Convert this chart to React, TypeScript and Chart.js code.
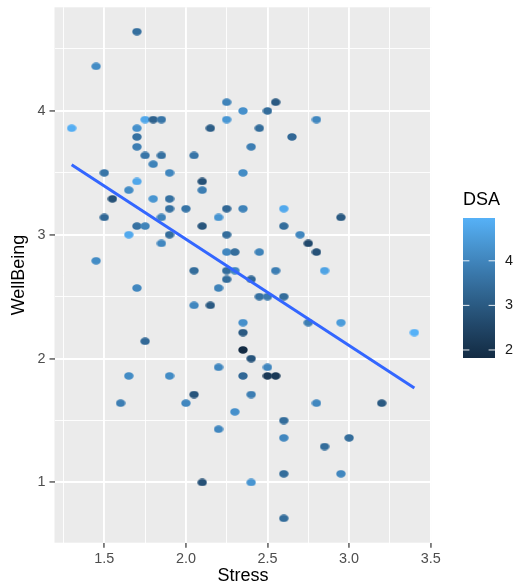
import React, { useEffect, useRef } from "react";
import { Chart, registerables } from "chart.js";

Chart.register(...registerables);

// ---- data ----
const STRESS = [
  1.70, 1.45, 2.25, 1.30, 1.75, 1.80, 1.85, 1.70, 1.70, 1.70,
  1.75, 1.85, 1.80, 2.05, 2.15, 2.25, 1.50, 1.90, 1.70, 2.10,
  2.10, 1.65, 1.55, 1.80, 1.90, 2.55, 2.35, 2.50, 2.80, 2.45,
  2.65, 2.40, 2.35, 1.90, 2.00, 1.85, 1.50, 2.20, 2.25, 1.70,
  1.75, 2.10, 1.65, 1.90, 2.25, 1.85, 1.45, 2.25, 2.30, 2.05,
  2.25, 2.30, 2.25, 1.70, 2.20, 2.05, 2.15, 1.75, 2.20, 1.65,
  1.90, 2.35, 2.60, 2.95, 2.60, 2.70, 2.75, 2.80, 2.45, 2.55,
  2.85, 2.40, 2.45, 2.50, 2.60, 2.35, 2.35, 2.75, 2.95, 3.40,
  2.35, 2.40, 2.50, 2.35, 2.50, 2.55, 2.05, 1.60, 2.00, 2.30,
  2.20, 2.10, 2.40, 2.80, 3.20, 2.60, 2.60, 3.00, 2.85, 2.60,
  2.95, 2.40, 2.60,
];
const WELLBEING = [
  4.64, 4.36, 4.07, 3.86, 3.93, 3.93, 3.93, 3.86, 3.79, 3.71,
  3.64, 3.64, 3.57, 3.64, 3.86, 3.93, 3.50, 3.50, 3.43, 3.43,
  3.36, 3.36, 3.29, 3.29, 3.29, 4.07, 4.00, 4.00, 3.93, 3.86,
  3.79, 3.71, 3.50, 3.21, 3.21, 3.14, 3.14, 3.14, 3.21, 3.07,
  3.07, 3.07, 3.00, 3.00, 3.00, 2.93, 2.79, 2.86, 2.86, 2.71,
  2.71, 2.71, 2.64, 2.57, 2.57, 2.43, 2.43, 2.14, 1.93, 1.86,
  1.86, 3.21, 3.21, 3.14, 3.07, 3.00, 2.93, 2.86, 2.86, 2.71,
  2.71, 2.64, 2.50, 2.50, 2.50, 2.29, 2.21, 2.29, 2.29, 2.21,
  2.07, 2.00, 1.93, 1.86, 1.86, 1.86, 1.71, 1.64, 1.64, 1.57,
  1.43, 1.00, 1.71, 1.64, 1.64, 1.50, 1.36, 1.36, 1.29, 1.07,
  1.07, 1.00, 0.71,
];
const DSA = [
  3.5, 4.15, 3.95, 4.9, 4.75, 3.2, 3.65, 4.25, 3.55, 3.85,
  3.65, 3.55, 3.95, 3.65, 3.1, 4.4, 3.65, 4.05, 4.75, 2.8,
  3.85, 4.15, 2.8, 4.35, 3.55, 3.0, 4.25, 3.45, 4.05, 3.45,
  3.35, 3.85, 4.15, 3.55, 3.65, 3.95, 3.35, 4.35, 3.35, 3.55,
  3.95, 2.9, 4.8, 3.45, 3.45, 4.05, 4.15, 4.05, 3.45, 3.45,
  3.45, 4.05, 3.45, 4.05, 3.95, 4.05, 3.0, 3.35, 4.05, 4.15,
  4.15, 3.95, 4.8, 3.0, 3.45, 4.05, 2.6, 2.8, 3.95, 3.85,
  4.65, 3.35, 3.55, 3.75, 3.45, 4.25, 3.0, 3.85, 4.5, 4.96,
  1.82, 2.9, 4.05, 3.35, 2.2, 2.2, 2.9, 3.85, 4.05, 4.25,
  4.05, 2.8, 3.85, 4.05, 3.0, 3.45, 4.05, 3.45, 3.45, 3.45,
  4.05, 4.35, 3.45,
];

// fitted lm line at the data's Stress extremes
const FIT_X = [1.3, 3.4];
const FIT_Y = [3.565, 1.763];

const X_MAJOR = [1.5, 2.0, 2.5, 3.0, 3.5];
const X_MINOR = [1.25, 1.75, 2.25, 2.75, 3.25];
const Y_MAJOR = [1, 2, 3, 4];
const Y_MINOR = [1.5, 2.5, 3.5, 4.5];
const DSA_TICKS = [2, 3, 4];

const X_TITLE = "Stress";
const Y_TITLE = "WellBeing";
const LEGEND_TITLE = "DSA";

const LOW_COLOR = "#132B43";
const HIGH_COLOR = "#56B1F7";
const FONT = '"Liberation Sans", Arial, Helvetica, sans-serif';

// ---- colour helpers (CIELAB interpolation, like ggplot's gradient) ----
const WHITE = [0.95047, 1.0, 1.08883];
const toLin = (c: number) => {
  c /= 255;
  return c <= 0.04045 ? c / 12.92 : Math.pow((c + 0.055) / 1.055, 2.4);
};
const fromLin = (c: number) => {
  const v = c <= 0.0031308 ? 12.92 * c : 1.055 * Math.pow(c, 1 / 2.4) - 0.055;
  return Math.round(Math.max(0, Math.min(1, v)) * 255);
};
const fLab = (t: number) => (t > 0.008856 ? Math.cbrt(t) : 7.787 * t + 16 / 116);
const fInv = (t: number) => (t > 0.206893 ? t * t * t : (t - 16 / 116) / 7.787);

function hexToLab(hex: string) {
  const r = toLin(parseInt(hex.slice(1, 3), 16));
  const g = toLin(parseInt(hex.slice(3, 5), 16));
  const b = toLin(parseInt(hex.slice(5, 7), 16));
  const X = 0.4124 * r + 0.3576 * g + 0.1805 * b;
  const Y = 0.2126 * r + 0.7152 * g + 0.0722 * b;
  const Z = 0.0193 * r + 0.1192 * g + 0.9505 * b;
  const fx = fLab(X / WHITE[0]);
  const fy = fLab(Y / WHITE[1]);
  const fz = fLab(Z / WHITE[2]);
  return [116 * fy - 16, 500 * (fx - fy), 200 * (fy - fz)];
}
function labToRgb(L: number, a: number, bb: number) {
  const fy = (L + 16) / 116;
  const fx = fy + a / 500;
  const fz = fy - bb / 200;
  const X = WHITE[0] * fInv(fx);
  const Y = WHITE[1] * fInv(fy);
  const Z = WHITE[2] * fInv(fz);
  const r = 3.2406 * X - 1.5372 * Y - 0.4986 * Z;
  const g = -0.9689 * X + 1.8758 * Y + 0.0415 * Z;
  const b = 0.0557 * X - 0.204 * Y + 1.057 * Z;
  return `rgb(${fromLin(r)},${fromLin(g)},${fromLin(b)})`;
}
const LAB_LO = hexToLab(LOW_COLOR);
const LAB_HI = hexToLab(HIGH_COLOR);
const colorAt = (t: number) => {
  const u = Math.max(0, Math.min(1, t));
  return labToRgb(
    LAB_LO[0] + (LAB_HI[0] - LAB_LO[0]) * u,
    LAB_LO[1] + (LAB_HI[1] - LAB_LO[1]) * u,
    LAB_LO[2] + (LAB_HI[2] - LAB_LO[2]) * u
  );
};
const DSA_MIN = Math.min(...DSA);
const DSA_MAX = Math.max(...DSA);
const dsaColor = (v: number) => colorAt((v - DSA_MIN) / (DSA_MAX - DSA_MIN));

const dotCache = new Map<string, HTMLCanvasElement>();
function dot(color: string) {
  let c = dotCache.get(color);
  if (!c) {
    c = document.createElement("canvas");
    c.width = 10;
    c.height = 8;
    const g = c.getContext("2d")!;
    g.fillStyle = color;
    g.beginPath();
    g.ellipse(5, 4, 4.7, 3.8, 0, 0, Math.PI * 2);
    g.fill();
    dotCache.set(color, c);
  }
  return c;
}

const expand = (arr: number[]) => {
  const lo = Math.min(...arr);
  const hi = Math.max(...arr);
  const pad = (hi - lo) * 0.05;
  return [lo - pad, hi + pad];
};

// geometry of panel
const W = 517;
const H = 587;
const PANEL_LEFT = 54.5;
const PANEL_RIGHT = 431.5;
const PANEL_TOP = 7.3;
const PANEL_BOTTOM = 542.7;

export default function App() {
  const ref = useRef<HTMLCanvasElement | null>(null);

  useEffect(() => {
    if (!ref.current) return;
    const [xLo, xHi] = expand(STRESS);
    const [yLo, yHi] = expand(WELLBEING);

    const points = STRESS.map((x, i) => ({ x, y: WELLBEING[i] }));
    const colors = DSA.map(dsaColor);
    const fitLine = FIT_X.map((x, i) => ({ x, y: FIT_Y[i] }));

    const bgPlugin = {
      id: "panelBg",
      beforeDraw(chart: any) {
        const { ctx, chartArea } = chart;
        ctx.save();
        ctx.fillStyle = "#EBEBEB";
        ctx.fillRect(
          chartArea.left,
          chartArea.top,
          chartArea.right - chartArea.left,
          chartArea.bottom - chartArea.top
        );
        ctx.restore();
      },
    };

    const colorbarPlugin = {
      id: "colorbar",
      afterDraw(chart: any) {
        const ctx = chart.ctx as CanvasRenderingContext2D;
        const bx = 463;
        const bw = 32;
        const top = 218;
        const bottom = 358;
        ctx.save();
        ctx.fillStyle = "#000";
        ctx.font = `18px ${FONT}`;
        ctx.textAlign = "left";
        ctx.textBaseline = "middle";
        ctx.fillText(LEGEND_TITLE, bx, 200.5);
        const grad = ctx.createLinearGradient(0, bottom, 0, top);
        for (let i = 0; i <= 24; i++) {
          grad.addColorStop(i / 24, colorAt(i / 24));
        }
        ctx.fillStyle = grad;
        ctx.fillRect(bx, top, bw, bottom - top);
        ctx.font = `14.4px ${FONT}`;
        for (const v of DSA_TICKS) {
          const y = bottom - ((v - DSA_MIN) / (DSA_MAX - DSA_MIN)) * (bottom - top);
          ctx.strokeStyle = "rgba(255,255,255,0.9)";
          ctx.lineWidth = 1;
          ctx.beginPath();
          ctx.moveTo(bx, y);
          ctx.lineTo(bx + bw / 5, y);
          ctx.moveTo(bx + bw - bw / 5, y);
          ctx.lineTo(bx + bw, y);
          ctx.stroke();
          ctx.fillStyle = "#1A1A1A";
          ctx.fillText(String(v), 505, y);
        }
        ctx.restore();
      },
    };

    const isXMajor = (v: number) => X_MAJOR.includes(v);
    const isYMajor = (v: number) => Y_MAJOR.includes(v);

    const chart = new Chart(ref.current, {
      type: "scatter",
      data: {
        datasets: [
          {
            label: "fit",
            data: fitLine,
            showLine: true,
            borderColor: "#3366FF",
            borderWidth: 3,
            pointRadius: 0,
            pointHoverRadius: 0,
            order: 0,
          } as any,
          {
            label: "points",
            data: points,
            backgroundColor: colors,
            borderWidth: 0,
            pointRadius: 4,
            pointStyle: (ctx: any) => dot(colors[ctx.dataIndex] ?? colors[0]),
            order: 1,
          } as any,
        ],
      },
      options: {
        responsive: false,
        animation: false,
        events: [],
        layout: {
          padding: {
            left: 0,
            right: W - PANEL_RIGHT,
            top: PANEL_TOP,
            bottom: 0,
          },
        },
        plugins: {
          legend: { display: false },
          tooltip: { enabled: false },
        },
        scales: {
          x: {
            type: "linear",
            min: xLo,
            max: xHi,
            afterBuildTicks: (s: any) => {
              s.ticks = [...X_MAJOR, ...X_MINOR]
                .sort((a, b) => a - b)
                .map((v) => ({ value: v }));
            },
            afterFit: (s: any) => {
              s.height = H - PANEL_BOTTOM;
              s.paddingLeft = 0;
              s.paddingRight = 0;
            },
            border: { display: false },
            grid: {
              color: "#FFFFFF",
              lineWidth: (c: any) => (isXMajor(c.tick?.value) ? 1.9 : 0.9),
              tickColor: (c: any) =>
                isXMajor(c.tick?.value) ? "#333333" : "rgba(0,0,0,0)",
              tickLength: 5,
              tickWidth: 1.2,
            },
            ticks: {
              autoSkip: false,
              maxRotation: 0,
              padding: 3,
              color: "#4D4D4D",
              font: { family: FONT, size: 14.4 },
              callback: (v: any) => (isXMajor(Number(v)) ? Number(v).toFixed(1) : ""),
            },
            title: {
              display: true,
              text: X_TITLE,
              color: "#000000",
              font: { family: FONT, size: 18 },
              padding: { top: 0, bottom: 0 },
            },
          },
          y: {
            type: "linear",
            min: yLo,
            max: yHi,
            afterBuildTicks: (s: any) => {
              s.ticks = [...Y_MAJOR, ...Y_MINOR]
                .sort((a, b) => a - b)
                .map((v) => ({ value: v }));
            },
            afterFit: (s: any) => {
              s.width = PANEL_LEFT;
              s.paddingTop = 0;
              s.paddingBottom = 0;
            },
            border: { display: false },
            grid: {
              color: "#FFFFFF",
              lineWidth: (c: any) => (isYMajor(c.tick?.value) ? 1.9 : 0.9),
              tickColor: (c: any) =>
                isYMajor(c.tick?.value) ? "#333333" : "rgba(0,0,0,0)",
              tickLength: 5,
              tickWidth: 1.2,
            },
            ticks: {
              autoSkip: false,
              padding: 4,
              color: "#4D4D4D",
              font: { family: FONT, size: 14.4 },
              callback: (v: any) => (isYMajor(Number(v)) ? String(Number(v)) : ""),
            },
            title: {
              display: true,
              text: Y_TITLE,
              color: "#000000",
              font: { family: FONT, size: 18 },
              padding: { top: 8, bottom: 0 },
            },
          },
        },
      },
      plugins: [bgPlugin, colorbarPlugin],
    });

    return () => chart.destroy();
  }, []);

  return (
    <div style={{ position: "fixed", left: 0, top: 0, width: W, height: H, background: "#FFFFFF" }}>
      <canvas ref={ref} width={W} height={H} style={{ width: W, height: H, display: "block" }} />
    </div>
  );
}
